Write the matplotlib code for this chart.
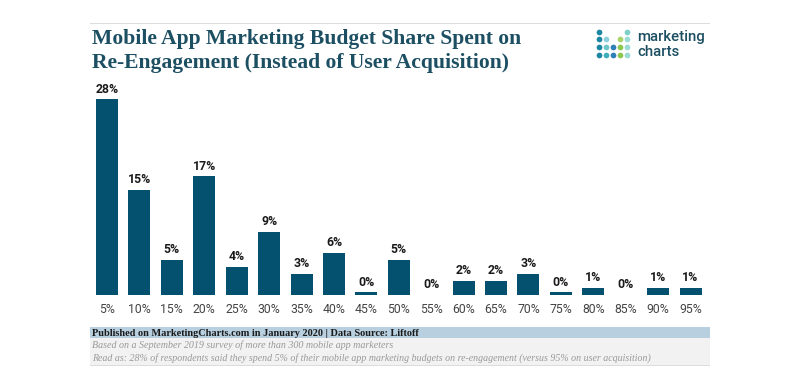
#!/usr/bin/env python3
"""Mobile app marketing budget share spent on re-engagement, bar chart."""
import matplotlib
matplotlib.use("Agg")
import matplotlib.pyplot as plt
from matplotlib.patches import Rectangle

W, H = 800, 389

# ── Data ───────────────────────────────────────────────────────────────────
CATEGORIES = ["5%", "10%", "15%", "20%", "25%", "30%", "35%", "40%", "45%", "50%",
              "55%", "60%", "65%", "70%", "75%", "80%", "85%", "90%", "95%"]
VALUES = [28, 15, 5, 17, 4, 9, 3, 6, 0.3, 5, 0, 2, 2, 3, 0.3, 1, 0, 1, 1]

TITLE_LINES = ["Mobile App Marketing Budget Share Spent on",
               "Re-Engagement (Instead of User Acquisition)"]
SOURCE = "Published on MarketingCharts.com in January 2020 | Data Source: Liftoff"
NOTE_1 = "Based on a September 2019 survey of more than 300 mobile app marketers"
NOTE_2 = ("Read as: 28% of respondents said they spend 5% of their mobile app marketing "
          "budgets on re-engagement (versus 95% on user acquisition)")

# ── Palette ────────────────────────────────────────────────────────────────
BAR = "#03506f"
TITLE = "#1d4f63"
BAND = "#b8cfdf"
NOTE_BG = "#f2f2f2"
RULE = "#dcdcdc"
SERIF = ["Liberation Serif", "DejaVu Serif"]

# Logo dots: (column, row, colour)
LOGO = [(0, 0, "#1b87a3"), (0, 1, "#1b87a3"), (0, 2, "#1b87a3"), (0, 3, "#1b87a3"),
        (1, 1, "#8fd0dc"), (1, 2, "#6fc7c9"), (1, 3, "#3fb0bb"),
        (2, 2, "#2f7fb8"), (2, 3, "#2f7fb8"),
        (3, 1, "#a9d46a"), (3, 2, "#8cc850"), (3, 3, "#8cc850"),
        (4, 0, "#7fd0c8"), (4, 1, "#9adcd4"), (4, 2, "#9adcd4"), (4, 3, "#9adcd4")]

fig = plt.figure(figsize=(W / 100, H / 100), dpi=100, facecolor="white")

# Pixel-space overlay for frame, title, logo and footer
bg = fig.add_axes([0, 0, 1, 1])
bg.set_xlim(0, W)
bg.set_ylim(H, 0)
bg.axis("off")

bg.add_patch(Rectangle((90, 22.5), 620, 1.6, color=RULE, lw=0))
bg.add_patch(Rectangle((90, 326.7), 620, 11.5, color=BAND, lw=0))
bg.add_patch(Rectangle((90, 338.2), 620, 27, color=NOTE_BG, lw=0))
bg.add_patch(Rectangle((90, 365), 620, 1.2, color=RULE, lw=0))

for y, line in zip([39, 63], TITLE_LINES):
    bg.text(92, y, line, family=SERIF, weight="bold", fontsize=15.55, color=TITLE, va="center")

bg.text(92, 333, SOURCE, family=SERIF, weight="bold", fontsize=7.4, color="#1a1a1a", va="center")
bg.text(92, 345, NOTE_1, family=SERIF, style="italic", fontsize=7.2, color="#999999", va="center")
bg.text(92, 358, NOTE_2, family=SERIF, style="italic", fontsize=7.15, color="#999999", va="center")

for col, row, c in LOGO:
    bg.scatter(598.7 + col * 7, 31.7 + row * 7.7, s=17, color=c, linewidths=0)
bg.text(637, 36.5, "marketing", family="Roboto", weight="medium", fontsize=10.8, color=TITLE, va="center")
bg.text(637, 51.5, "charts", family="Roboto", weight="medium", fontsize=10.8, color=TITLE, va="center")

# Bars: baseline at y=294.5 px, 28% top at y=99 px
ax = fig.add_axes([90 / W, (H - 294.5) / H, 620 / W, 215 / H])
ax.patch.set_alpha(0)
x = list(range(len(CATEGORIES)))
ax.bar(x, VALUES, width=0.68, color=BAR, linewidth=0)
ax.set_xlim(-0.525, 18.6)
ax.set_ylim(0, 215 / 6.98)

for xi, v in zip(x, VALUES):
    ax.annotate(f"{v:.0f}%", (xi, v), xytext=(0, 2.4), textcoords="offset points",
                ha="center", va="bottom", family="Roboto", weight="bold",
                fontsize=8.8, color="#1a1a1a")

ax.set_xticks(x)
ax.set_xticklabels(CATEGORIES, family="Roboto", fontsize=8.8, color="#444444")
ax.tick_params(axis="x", length=0, pad=6.2)
ax.set_yticks([])
for s in ax.spines.values():
    s.set_visible(False)

fig.savefig("out.png", dpi=100)
